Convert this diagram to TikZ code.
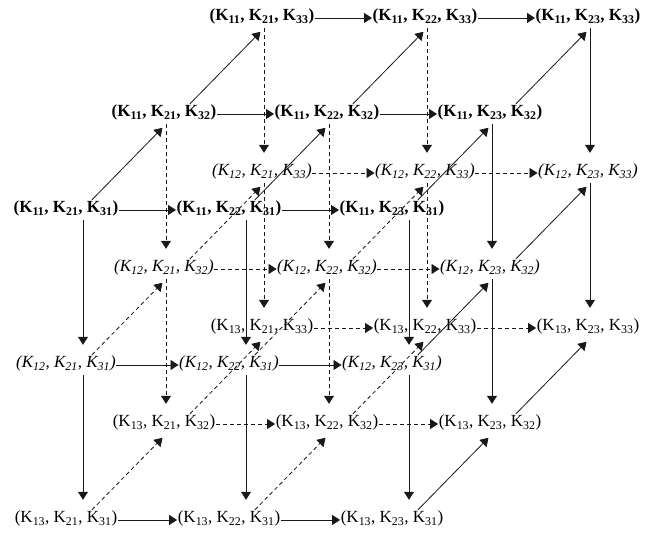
\documentclass[tikz,border=0pt]{standalone}
\usepackage{fontspec}
\setmainfont{Liberation Serif}
\usepackage{tikz}
\usetikzlibrary{arrows.meta}
\newcommand\klabel[3]{(K\textsubscript{1#1}, K\textsubscript{2#2}, K\textsubscript{3#3})}
\begin{document}
\begin{tikzpicture}[x=1pt,y=1pt,font=\fontsize{17}{20}\selectfont,
  lab/.style={inner xsep=0.5pt,inner ysep=2pt,text height=11pt,text depth=5pt},
  lvl1/.style={font=\fontsize{17}{20}\selectfont\bfseries},
  lvl2/.style={font=\fontsize{17}{20}\selectfont\itshape},
  lvl3/.style={},
  arr/.style={-{Triangle[width=10pt,length=8pt]},line width=0.8pt,draw=black!90},
  hid0/.style={},
  hid1/.style={dash pattern=on 4pt off 3pt}]
\useasboundingbox (0,0) rectangle (649,533);
\foreach \i in {1,2,3}\foreach \j in {1,2,3}\foreach \k in {1,2,3}
  {\node[lab,lvl\i] (n\i\j\k) at ({66+163*(\j-1)+98*(\k-1)},{323-155*(\i-1)+96*(\k-1)}) {\klabel{\i}{\j}{\k}};}
\foreach \i in {1,2,3}\foreach \k in {1,2,3}\foreach \a/\b in {1/2,2/3}{
  \pgfmathtruncatemacro\h{and(\i>1,\k>1)}
  \draw[arr,hid\h] (n\i\a\k.east)--(n\i\b\k.west);}
\foreach \j in {1,2,3}\foreach \k in {1,2,3}\foreach \a/\b in {1/2,2/3}{
  \pgfmathtruncatemacro\h{and(\j<3,\k>1)}
  \pgfmathsetmacro\dx{\k==1 ? 17 : 2}
  \draw[arr,hid\h,shorten >=10pt] ([xshift=\dx pt]n\a\j\k.south)--([xshift=\dx pt]n\b\j\k.north);}
\foreach \i in {1,2,3}\foreach \j in {1,2,3}\foreach \a/\b in {1/2,2/3}{
  \pgfmathtruncatemacro\h{and(\i>1,\j<3)}
  \draw[arr,hid\h,shorten >=5pt] ([xshift=26pt]n\i\j\a.north)--([xshift=2pt]n\i\j\b.south);}
\end{tikzpicture}
\end{document}
